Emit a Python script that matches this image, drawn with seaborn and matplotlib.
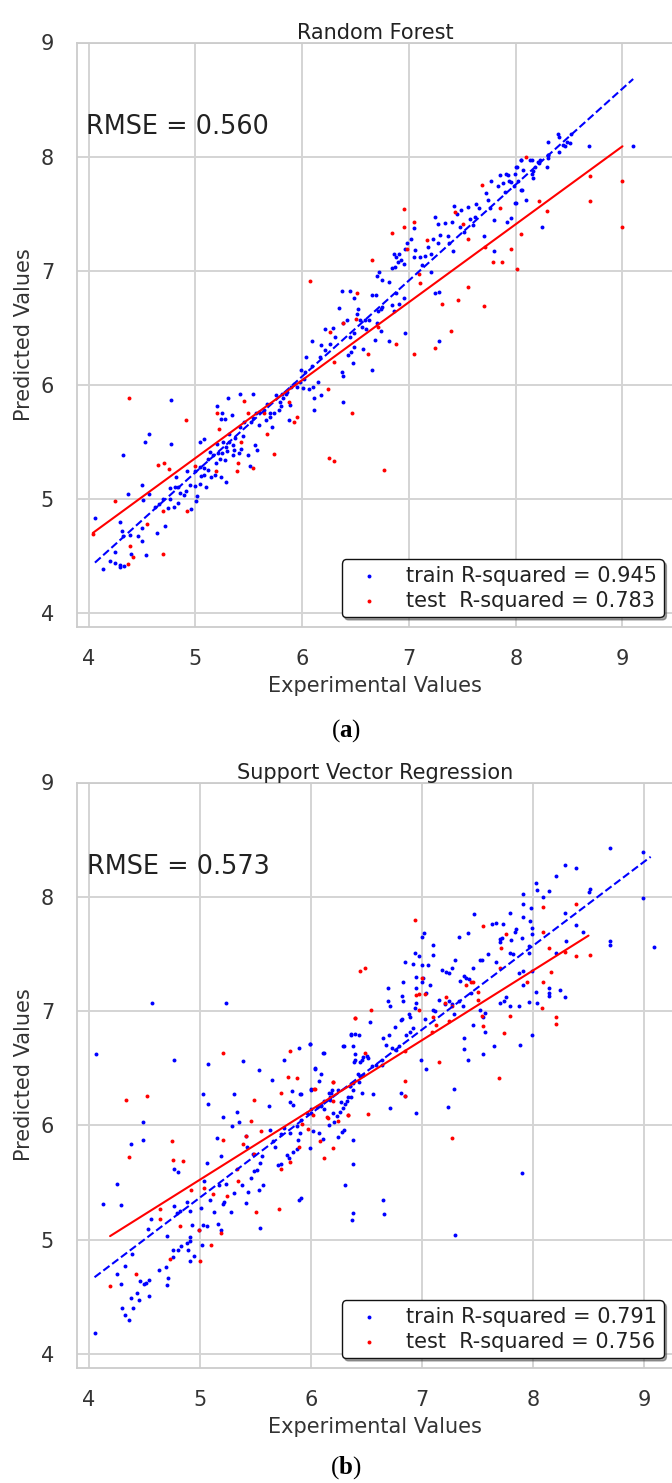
import matplotlib
matplotlib.use("Agg")
import numpy as np
import matplotlib.pyplot as plt
import seaborn as sns

# ---------------- data ----------------
# Random Forest: (experimental, predicted) pairs
rf_train = [
    (4.77, 5.87), (4.57, 5.57), (4.53, 5.50), (4.77, 5.48), (4.32, 5.38), (4.06, 4.83), (4.29, 4.80),
    (4.31, 4.72), (4.37, 5.04), (4.50, 5.12), (4.57, 5.04), (4.51, 4.99), (4.39, 4.68), (4.46, 4.67),
    (4.50, 4.63), (4.32, 4.67), (4.40, 4.52), (4.54, 4.51), (4.64, 4.70), (4.72, 4.76), (4.14, 4.38),
    (4.20, 4.45), (4.25, 4.44), (4.29, 4.42), (4.33, 4.41), (4.29, 4.40), (4.25, 4.53), (4.50, 4.74),
    (4.82, 5.19), (4.92, 5.24), (4.81, 5.10), (4.84, 5.10), (4.76, 5.09), (4.76, 5.00), (4.74, 4.92),
    (4.80, 4.93), (4.84, 4.96), (4.89, 5.03), (4.91, 5.07), (4.96, 4.91), (5.01, 4.98), (5.02, 5.02),
    (5.00, 5.11), (5.04, 5.13), (5.10, 5.10), (5.08, 5.21), (5.15, 5.19), (5.18, 5.21), (5.24, 5.19),
    (5.29, 5.15), (5.00, 5.24), (5.04, 5.28), (5.08, 5.27), (5.12, 5.35), (5.17, 5.38), (5.21, 5.40),
    (5.19, 5.31), (5.23, 5.35), (5.28, 5.34), (5.35, 5.38), (5.36, 5.43), (5.35, 5.47), (5.32, 5.50),
    (5.26, 5.50), (5.20, 5.48), (5.14, 5.41), (5.04, 5.50), (5.08, 5.52), (5.20, 5.81), (5.25, 5.75),
    (5.28, 5.70), (5.24, 5.70), (5.31, 5.88), (5.42, 5.92), (5.54, 5.92), (5.34, 5.73), (5.42, 5.63),
    (5.46, 5.67), (5.52, 5.67), (5.54, 5.71), (5.57, 5.75), (5.60, 5.76), (5.64, 5.78), (5.66, 5.69),
    (5.67, 5.83), (5.72, 5.63), (5.70, 5.72), (5.74, 5.75), (5.78, 5.78), (5.80, 5.81), (5.79, 5.85),
    (5.76, 5.91), (5.81, 5.92), (5.86, 5.94), (5.90, 5.98), (5.92, 6.01), (5.98, 6.02), (6.01, 5.97),
    (6.06, 5.96), (6.10, 5.98), (6.15, 6.02), (6.18, 5.91), (6.11, 5.88), (6.11, 5.78), (6.38, 5.85),
    (5.89, 5.82), (5.88, 5.69), (5.43, 5.44), (5.49, 5.38), (5.51, 5.29), (5.56, 5.47), (5.58, 5.43),
    (5.41, 5.40), (5.32, 5.57), (5.37, 5.53), (5.29, 5.45),
    (4.62, 4.93), (4.66, 4.95), (4.70, 5.00), (4.86, 5.05), (4.95, 5.12), (5.05, 5.20), (5.12, 5.25),
    (5.25, 5.40), (5.30, 5.42), (5.45, 5.55), (5.60, 5.65), (5.70, 5.75), (5.82, 5.88), (5.85, 5.92),
    (5.95, 5.98), (6.02, 6.05),
    (5.99, 6.13), (6.03, 6.11), (6.09, 6.16), (6.04, 6.24), (6.09, 6.38), (6.18, 6.35), (6.17, 6.24),
    (6.21, 6.30), (6.26, 6.36), (6.21, 6.49), (6.29, 6.50), (6.31, 6.42), (6.35, 6.67), (6.37, 6.82),
    (6.45, 6.82), (6.38, 6.54), (6.42, 6.57), (6.45, 6.42), (6.49, 6.45), (6.49, 6.76), (6.51, 6.62),
    (6.52, 6.66), (6.54, 6.57), (6.56, 6.51), (6.59, 6.57), (6.63, 6.57), (6.46, 6.29), (6.49, 6.33),
    (6.57, 6.31), (6.48, 6.19), (6.43, 6.26), (6.37, 6.11), (6.38, 6.08), (6.65, 6.13), (6.68, 6.39),
    (6.74, 6.47), (6.81, 6.38), (6.71, 6.65), (6.75, 6.68), (6.69, 6.79), (6.65, 6.79), (6.70, 6.95),
    (6.72, 6.99), (6.75, 6.92), (6.81, 6.90), (6.84, 7.02), (6.87, 7.03), (6.86, 7.15), (6.88, 7.12),
    (6.90, 7.08), (6.93, 7.09), (6.95, 7.06), (6.91, 7.15), (6.96, 7.19), (6.98, 7.24), (7.02, 7.28),
    (7.05, 7.37), (7.06, 7.18), (7.05, 7.12), (7.10, 7.12), (7.12, 7.05), (7.15, 7.13), (7.18, 7.21),
    (7.21, 7.15), (7.24, 7.47), (7.23, 7.28), (7.27, 7.24), (7.27, 7.41), (7.29, 7.31), (7.34, 7.42),
    (7.37, 7.30), (7.38, 7.24), (7.40, 7.43), (7.42, 7.57), (7.41, 7.17), (7.45, 7.50), (7.48, 7.38),
    (7.49, 7.53), (7.52, 7.34), (7.55, 7.56), (7.57, 7.45), (7.60, 7.40), (7.62, 7.47), (7.63, 7.58),
    (7.66, 7.55), (7.70, 7.30), (7.72, 7.68), (7.74, 7.62), (7.76, 7.55), (7.80, 7.44), (7.77, 7.79),
    (7.80, 7.17), (7.83, 7.74), (7.85, 7.84), (7.88, 7.77), (7.90, 7.69), (7.93, 7.84), (7.94, 7.79),
    (7.92, 7.43), (7.98, 7.74), (7.99, 7.85), (8.00, 7.59), (8.00, 7.91), (8.02, 7.79), (8.05, 7.97),
    (8.06, 7.71), (8.07, 7.88), (8.10, 7.62), (8.13, 7.97), (8.15, 7.85), (8.16, 7.81), (8.18, 7.91),
    (8.21, 7.95), (8.23, 7.97), (8.25, 7.38), (8.29, 7.91), (8.30, 7.99), (8.30, 8.01), (8.30, 8.13),
    (8.40, 8.20), (8.41, 8.17), (8.44, 8.10), (8.48, 8.13), (8.51, 8.12), (8.52, 8.20), (8.69, 8.09),
    (9.10, 8.09), (6.88, 6.80), (6.95, 6.76), (6.96, 6.45), (6.84, 6.70), (7.21, 6.99), (7.24, 6.80),
    (7.28, 6.81), (7.28, 6.38), (6.91, 6.71), (6.86, 6.65), (6.74, 6.66), (6.70, 6.54), (6.60, 6.49),
    (8.46, 8.09), (8.41, 8.04), (8.30, 8.01), (8.22, 7.94), (8.15, 7.97), (8.05, 7.97), (8.01, 7.91),
    (7.91, 7.85), (7.96, 7.78), (8.16, 7.87), (8.05, 7.71), (7.99, 7.59), (7.96, 7.46),
]
rf_test = [
    (4.38, 5.88), (4.91, 5.69), (5.46, 5.86), (5.20, 5.75), (5.22, 5.61), (5.43, 5.50), (5.49, 5.75),
    (5.64, 5.75), (5.67, 5.57), (5.74, 5.39), (5.54, 5.27), (5.39, 5.24), (5.19, 5.24), (5.40, 5.31),
    (5.00, 5.29), (4.71, 5.31), (4.65, 5.30), (4.75, 5.26), (4.25, 4.98), (4.55, 4.78), (4.70, 4.89),
    (4.92, 4.89), (4.39, 4.59), (4.42, 4.49), (4.37, 4.43), (4.70, 4.52), (4.04, 4.69), (5.88, 5.85),
    (5.95, 5.72), (5.92, 5.67), (6.24, 5.96), (6.47, 5.75), (6.25, 5.36), (6.30, 5.33), (6.77, 5.25),
    (6.07, 6.91), (6.51, 6.80), (6.65, 7.09), (6.84, 7.33), (6.95, 7.38), (6.95, 7.54), (7.05, 7.43),
    (7.17, 7.27), (6.98, 7.19), (7.09, 6.97), (7.10, 6.89), (6.88, 6.36), (6.62, 6.27), (6.30, 6.20),
    (6.26, 6.46), (6.38, 6.54), (6.50, 6.58), (6.71, 6.51), (7.31, 6.71), (7.46, 6.74), (7.55, 6.86),
    (7.70, 6.69), (7.39, 6.47), (7.24, 6.32), (7.05, 6.27), (7.68, 7.75), (7.43, 7.51), (7.51, 7.41),
    (7.55, 7.28), (7.71, 7.21), (7.79, 7.08), (7.87, 7.08), (7.85, 7.55), (7.96, 7.19), (8.01, 7.01),
    (8.05, 7.32), (8.10, 8.00), (8.22, 7.61), (8.29, 7.52), (8.70, 7.83), (8.70, 7.61), (9.00, 7.79),
    (9.00, 7.38),
]

# Support Vector Regression: (experimental, predicted) pairs
svr_train = [
    (4.57, 7.07), (5.23, 7.07), (4.06, 6.62), (4.77, 6.57), (5.07, 6.54), (5.39, 6.56), (5.53, 6.48),
    (5.65, 6.40), (5.76, 6.57), (5.89, 6.68), (5.99, 6.71), (6.12, 6.63), (6.30, 6.69), (6.36, 6.80),
    (6.40, 6.80), (5.03, 6.27), (5.07, 6.19), (5.21, 6.07), (5.31, 6.27), (5.33, 6.12), (5.35, 6.03),
    (5.29, 5.99), (5.62, 6.17), (5.81, 6.20), (5.84, 6.18), (5.83, 6.30), (5.90, 6.27), (6.00, 6.32),
    (6.04, 6.49), (6.09, 6.45), (6.07, 6.39), (6.16, 6.28), (6.19, 6.31), (4.49, 6.03), (4.49, 5.87),
    (4.38, 5.84), (4.77, 5.62), (4.80, 5.59), (4.25, 5.49), (4.13, 5.31), (4.29, 5.30), (4.56, 5.18),
    (4.53, 5.09), (4.70, 5.03), (4.77, 5.29), (4.79, 5.23), (4.82, 5.25), (4.88, 5.33), (4.91, 5.25),
    (5.01, 5.28), (4.93, 5.13), (5.03, 5.13), (4.99, 5.08), (5.06, 5.67), (5.15, 5.89), (5.19, 5.73),
    (5.04, 5.51), (5.09, 5.35), (5.13, 5.24), (5.17, 5.48), (5.21, 5.31), (5.22, 5.33), (5.23, 5.49),
    (5.28, 5.24), (5.31, 5.41), (5.38, 5.48), (5.41, 5.32), (5.43, 5.42), (5.46, 5.54), (5.49, 5.60),
    (5.51, 5.61), (5.53, 5.43), (5.57, 5.48), (5.41, 5.91), (5.42, 5.81), (5.48, 5.75), (5.54, 5.67),
    (5.56, 5.73), (5.63, 5.96), (5.66, 5.86), (5.68, 5.81), (5.70, 5.65), (5.73, 5.66), (5.78, 5.74),
    (5.80, 5.71), (5.84, 5.77), (5.87, 5.79), (5.88, 5.87), (5.90, 5.93), (5.99, 5.80), (6.02, 5.95),
    (6.07, 5.93), (6.11, 5.88), (6.16, 6.00), (6.21, 6.03), (6.24, 5.90), (6.28, 5.94), (6.30, 5.96),
    (6.38, 5.87), (6.38, 5.66), (6.31, 5.48), (5.89, 5.35), (5.91, 5.36), (5.54, 5.10), (5.19, 5.08),
    (5.06, 5.12), (5.16, 5.14), (4.91, 5.02), (4.91, 4.99), (4.89, 4.91), (4.88, 4.97), (4.83, 4.94),
    (4.80, 4.91), (4.76, 4.91), (4.76, 4.85), (4.91, 4.81), (4.95, 4.86), (5.02, 4.95), (4.69, 4.76),
    (4.63, 4.73), (4.71, 4.66), (4.70, 4.60), (4.32, 4.77), (4.25, 4.70), (4.29, 4.61), (4.39, 4.87),
    (4.46, 4.64), (4.50, 4.61), (4.51, 4.62), (4.54, 4.65), (4.54, 4.51), (4.38, 4.49), (4.43, 4.53),
    (6.38, 5.23), (6.37, 5.17), (6.39, 6.55), (6.40, 6.62), (6.42, 6.45), (6.43, 6.38), (6.38, 6.31),
    (6.35, 6.34), (6.33, 6.25), (6.31, 6.19), (6.29, 6.15), (6.26, 6.12), (6.23, 6.08), (6.12, 6.14),
    (6.09, 6.17), (6.17, 6.22), (5.91, 6.05), (5.96, 6.11), (6.00, 6.14), (5.87, 5.99), (5.81, 5.93),
    (5.73, 5.92), (5.76, 5.98),
    (8.69, 8.43), (8.99, 8.39), (8.99, 7.99), (8.29, 8.28), (8.39, 8.25), (8.21, 8.18), (8.03, 8.12),
    (8.04, 8.06), (8.14, 8.05), (8.09, 8.00), (7.91, 8.02), (7.91, 7.94), (7.98, 7.90), (8.51, 8.07),
    (8.50, 8.04), (7.79, 7.86), (7.91, 7.82), (7.97, 7.79), (7.47, 7.85), (7.63, 7.76), (7.67, 7.77),
    (7.73, 7.76), (7.85, 7.72), (7.84, 7.69), (7.99, 7.73), (8.29, 7.86), (8.39, 7.75), (8.45, 7.69),
    (7.70, 7.63), (7.72, 7.64), (7.70, 7.60), (7.80, 7.62), (7.90, 7.64), (7.99, 7.67), (7.33, 7.65),
    (7.41, 7.68), (8.69, 7.61), (8.69, 7.58), (9.09, 7.56), (8.21, 7.51), (8.30, 7.61), (7.79, 7.51),
    (7.82, 7.50), (7.96, 7.57), (7.96, 7.51), (7.54, 7.45), (7.52, 7.45), (7.59, 7.50), (7.67, 7.43),
    (7.46, 7.38), (7.30, 7.45), (7.27, 7.38), (7.22, 7.34), (7.24, 7.33), (7.18, 7.36), (7.10, 7.58),
    (7.10, 7.49), (7.02, 7.68), (7.00, 7.65), (6.94, 7.51), (6.97, 7.48), (6.92, 7.41), (7.00, 7.40),
    (7.05, 7.40), (6.85, 7.43), (6.95, 7.30), (7.01, 7.29), (7.00, 7.25), (7.07, 7.23), (7.04, 7.16),
    (6.95, 7.20), (6.95, 7.07), (6.94, 7.03), (6.83, 7.25), (6.83, 7.09), (6.82, 7.13), (6.82, 6.93),
    (6.81, 6.92), (6.88, 6.97), (6.89, 6.95), (6.69, 7.20), (6.69, 7.09), (6.71, 7.04), (6.53, 6.90),
    (6.76, 6.86), (6.70, 6.79), (6.65, 6.76), (6.68, 6.70), (6.73, 6.68), (6.77, 6.66), (6.79, 6.69),
    (6.86, 6.79), (6.89, 6.82), (6.92, 6.85), (7.03, 6.93), (7.10, 7.01), (7.12, 7.00), (7.15, 7.10),
    (7.21, 7.06), (7.24, 7.09), (7.27, 7.06), (7.29, 6.97), (7.33, 7.09), (7.34, 7.26), (7.37, 7.04),
    (7.38, 7.31), (7.40, 7.29), (7.42, 7.28), (7.44, 7.16), (7.46, 6.88), (7.52, 7.01), (7.55, 6.95),
    (7.57, 6.98), (7.70, 7.07), (7.74, 7.09), (7.76, 7.12), (7.79, 7.04), (7.87, 7.04), (7.91, 7.23),
    (7.91, 7.35), (7.87, 7.33), (7.99, 7.35), (8.03, 7.17), (8.04, 7.07), (8.14, 7.16), (8.14, 7.13),
    (8.14, 7.20), (8.24, 7.18), (8.29, 7.12), (7.96, 7.08), (7.88, 6.70), (7.99, 6.79), (7.65, 6.69),
    (7.57, 6.82), (7.38, 6.76), (7.38, 6.67), (7.41, 6.57), (7.55, 6.62), (7.29, 6.32), (7.23, 6.16),
    (7.04, 6.49), (6.99, 6.57), (6.95, 6.11), (6.81, 6.28), (6.85, 6.26), (6.71, 6.15), (6.56, 6.27),
    (6.46, 6.28), (6.29, 6.69), (6.38, 6.69), (6.36, 6.79), (6.43, 6.79), (6.46, 6.57), (6.47, 6.60),
    (6.50, 6.61), (6.51, 6.59), (6.40, 6.57), (6.44, 6.55), (6.55, 6.52), (6.64, 6.53), (6.64, 6.57),
    (6.59, 6.53), (6.47, 6.44), (6.44, 6.43), (6.38, 6.37), (6.35, 6.34), (6.36, 6.25), (6.32, 6.21),
    (6.27, 6.20), (6.24, 6.31), (6.18, 6.28), (6.17, 6.25), (6.12, 6.21), (6.09, 6.18), (6.04, 6.50),
    (6.11, 6.63), (5.99, 6.71), (6.00, 6.31), (5.91, 6.27), (6.05, 6.16), (6.20, 6.11), (6.00, 6.11),
    (4.05, 4.18), (4.32, 4.34), (4.36, 4.30), (4.40, 4.40), (4.30, 4.40), (4.45, 4.47), (6.65, 5.35),
    (6.66, 5.22), (7.30, 5.04), (7.90, 5.58),
]
svr_test = [
    (4.33, 6.22), (4.52, 6.26), (5.21, 6.63), (5.49, 6.22), (5.46, 6.04), (5.55, 5.95), (5.81, 6.65),
    (5.79, 6.42), (5.87, 6.41), (5.73, 6.28), (6.04, 6.32), (6.20, 6.38), (6.33, 6.09), (6.24, 6.04),
    (6.15, 6.06), (6.20, 5.80), (6.08, 5.86), (6.12, 5.71), (5.97, 5.97), (5.92, 6.01), (5.89, 5.81),
    (5.81, 5.68), (5.73, 5.62), (5.71, 5.27), (5.50, 5.24), (5.41, 5.91), (5.39, 5.84), (5.49, 5.75),
    (5.34, 5.51), (5.33, 5.62), (5.24, 5.38), (5.12, 5.40), (5.04, 5.45), (4.92, 5.43), (5.21, 5.87),
    (4.75, 5.86), (4.76, 5.70), (4.85, 5.69), (4.36, 5.72), (4.64, 5.27), (4.64, 5.18), (4.82, 5.12),
    (4.99, 5.08), (5.19, 5.06), (5.10, 4.95), (5.00, 4.81), (4.73, 4.83), (4.42, 4.70), (4.19, 4.59),
    (6.40, 6.94),
    (6.94, 7.80), (7.55, 7.74), (7.76, 7.67), (7.71, 7.55), (8.09, 7.91), (8.09, 7.69), (8.14, 7.55),
    (8.39, 7.94), (8.29, 7.52), (8.39, 7.48), (8.51, 7.49), (7.70, 7.38), (8.16, 7.34), (8.09, 7.25),
    (8.08, 7.03), (7.95, 7.25), (8.21, 6.95), (8.21, 6.89), (7.79, 6.96), (7.74, 6.81), (7.55, 6.87),
    (7.54, 6.96), (7.50, 7.17), (7.44, 7.25), (7.46, 7.25), (7.40, 7.23), (7.50, 7.10), (7.22, 7.12),
    (7.21, 7.07), (7.27, 7.04), (7.24, 6.91), (7.13, 6.88), (7.10, 6.95), (7.09, 6.82), (7.00, 7.29),
    (6.97, 7.15), (6.95, 7.14), (6.97, 7.01), (7.03, 7.15), (6.49, 7.38), (6.44, 7.35), (6.54, 7.01),
    (6.40, 6.94), (6.49, 6.63), (6.85, 6.65), (6.85, 6.39), (6.85, 6.26), (7.15, 6.55), (7.69, 6.41),
    (6.20, 6.38), (6.03, 6.32), (6.20, 6.21), (6.02, 6.09), (6.33, 6.09), (6.51, 6.10), (6.14, 6.07),
    (7.27, 5.89),
]

# fitted regression lines (start, end)
rf_train_fit_x, rf_train_fit_y = [4.06, 9.10], [4.44, 8.68]
rf_test_fit_x, rf_test_fit_y = [4.04, 9.00], [4.70, 8.09]
svr_train_fit_x, svr_train_fit_y = [4.05, 9.06], [4.67, 8.35]
svr_test_fit_x, svr_test_fit_y = [4.19, 8.50], [5.03, 7.66]

model_names = ["Random Forest", "Support Vector Regression"]
rmse_values = [0.560, 0.573]
train_r2 = [0.945, 0.791]
test_r2 = [0.783, 0.756]
panel_letters = ["a", "b"]
tick_values = [4, 5, 6, 7, 8, 9]

# ---------------- style ----------------
sns.set_theme(style="whitegrid")
plt.rcParams["font.family"] = ["DejaVu Sans"]
plt.rcParams["mathtext.fontset"] = "custom"
plt.rcParams["mathtext.rm"] = "Liberation Serif"
plt.rcParams["mathtext.bf"] = "Liberation Serif:bold"

W, H = 672, 1483
fig = plt.figure(figsize=(W / 100, H / 100), dpi=100)

panels = [
    dict(rect=[77 / W, 1 - 626.5 / H, 596 / W, 584 / H], xlim=(3.892, 9.473),
         train=rf_train, test=rf_test,
         tfit=(rf_train_fit_x, rf_train_fit_y), sfit=(rf_test_fit_x, rf_test_fit_y),
         caption_y=1 - 730.5 / H),
    dict(rect=[77 / W, 1 - 1367.5 / H, 596 / W, 585 / H], xlim=(3.892, 9.261),
         train=svr_train, test=svr_test,
         tfit=(svr_train_fit_x, svr_train_fit_y), sfit=(svr_test_fit_x, svr_test_fit_y),
         caption_y=1 - 1468 / H),
]

for i, p in enumerate(panels):
    ax = fig.add_axes(p["rect"])
    tx, ty = np.array(p["train"]).T
    sx, sy = np.array(p["test"]).T

    sns.scatterplot(x=tx, y=ty, color="blue", s=8, linewidth=0, ax=ax, zorder=3,
                    label=f"train R-squared = {train_r2[i]:.3f}")
    sns.scatterplot(x=sx, y=sy, color="red", s=8, linewidth=0, ax=ax, zorder=3,
                    label=f"test  R-squared = {test_r2[i]:.3f}")
    ax.plot(*p["tfit"], linestyle="--", color="blue", linewidth=1.5, zorder=4)
    ax.plot(*p["sfit"], linestyle="-", color="red", linewidth=1.5, zorder=4)

    ax.set_xlim(*p["xlim"])
    ax.set_ylim(3.88, 9.0)
    ax.set_xticks(tick_values)
    ax.set_yticks(tick_values)
    ax.tick_params(axis="both", labelsize=15, length=0, pad=16.5, labelcolor="#333333")
    for side in ax.spines.values():
        side.set_color("#cccccc")
        side.set_linewidth(1.3)
    ax.grid(True, color="#d4d4d4", linewidth=1.4)

    ax.set_title(model_names[i], fontsize=15, pad=2.8, color="#222222")
    ax.set_xlabel("Experimental Values", fontsize=15, labelpad=4.5, color="#333333")
    ax.set_ylabel("Predicted Values", fontsize=15, labelpad=5, color="#333333")

    ax.text(3.98, 8.2, f"RMSE = {rmse_values[i]:.3f}", fontsize=18.4, color="#222222")

    leg = ax.legend(loc="lower right", fontsize=15, frameon=True, fancybox=True, shadow=True,
                    labelspacing=0.25, borderpad=0.3, handletextpad=0.8, borderaxespad=0.45)
    leg.get_frame().set_edgecolor("#111111")
    leg.get_frame().set_linewidth(1.0)
    leg.get_frame().set_facecolor("white")
    leg.get_frame().set_alpha(1.0)
    for t in leg.get_texts():
        t.set_color("#222222")

    fig.text(346 / W, p["caption_y"], "($\\mathbf{" + panel_letters[i] + "}$)",
             family="Liberation Serif", fontsize=18, ha="center", va="center", color="black")

fig.savefig("out.png", dpi=100)
